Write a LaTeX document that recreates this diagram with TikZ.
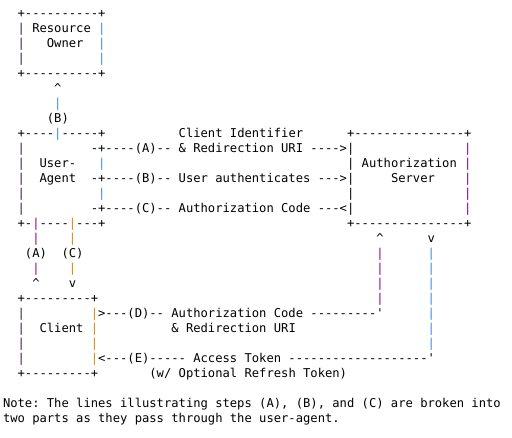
\documentclass[tikz,border=0pt]{standalone}
\usepackage{fontspec}
\setmonofont{DejaVu Sans Mono}
\definecolor{cbl}{HTML}{3A8EDB}
\definecolor{cor}{HTML}{DB8A08}
\definecolor{cpu}{HTML}{860486}
\definecolor{cdk}{HTML}{3A1A4E}
\newlength\cw
\setlength\cw{7.3209pt}
\newcommand\spc[1]{\hspace*{#1\cw}}
\newcommand\cB[1]{\textcolor{cbl}{#1}}
\newcommand\cO[1]{\textcolor{cor}{#1}}
\newcommand\cP[1]{\textcolor{cpu}{#1}}
\newcommand\cD[1]{\textcolor{cdk}{#1}}
\newcommand\up{\textasciicircum}
\tikzset{ln/.style={anchor=base west, inner sep=0pt, outer sep=0pt,
  font=\ttfamily\fontsize{12.16}{15}\selectfont\frenchspacing, text=black}}
\begin{document}
\begin{tikzpicture}[x=1pt,y=1pt]
\fill[white] (0,0) rectangle (512,-437);
\useasboundingbox (0,0) rectangle (512,-437);
\node[ln] (l0) at (3,-17) {\spc{2}+----------+};
\node[ln] (l1) at (3,-32) {\spc{2}\cD{|} Resource \cB{|}};
\node[ln] (l2) at (3,-47) {\spc{2}\cD{|}\spc{3}Owner\spc{2}\cB{|}};
\node[ln] (l3) at (3,-62) {\spc{2}\cD{|}\spc{10}\cB{|}};
\node[ln] (l4) at (3,-77) {\spc{2}+----------+};
\node[ln] (l5) at (3,-92) {\spc{7}\up};
\node[ln] (l6) at (3,-107) {\spc{7}\cB{|}};
\node[ln] (l7) at (3,-122) {\spc{6}(B)};
\node[ln] (l8) at (3,-137) {\spc{2}+----\cB{|}-----+\spc{10}Client Identifier\spc{6}+---------------+};
\node[ln] (l9) at (3,-152) {\spc{2}\cD{|}\spc{9}-+----(A)-- \& Redirection URI ---->|\spc{15}\cP{|}};
\node[ln] (l10) at (3,-167) {\spc{2}\cD{|}\spc{2}User-\spc{3}\cB{|}\spc{33}| Authorization \cP{|}};
\node[ln] (l11) at (3,-182) {\spc{2}\cD{|}\spc{2}Agent\spc{2}-+----(B)-- User authenticates --->|\spc{5}Server\spc{4}\cP{|}};
\node[ln] (l12) at (3,-197) {\spc{2}\cD{|}\spc{10}\cB{|}\spc{33}|\spc{15}\cP{|}};
\node[ln] (l13) at (3,-212) {\spc{2}\cD{|}\spc{9}-+----(C)-- Authorization Code ---<|\spc{15}\cP{|}};
\node[ln] (l14) at (3,-227) {\spc{2}+-\cP{|}----\cO{|}---+\spc{33}+---------------+};
\node[ln] (l15) at (3,-242) {\spc{4}\cP{|}\spc{4}\cO{|}\spc{41}\up\spc{6}v};
\node[ln] (l16) at (3,-257) {\spc{3}(A)\spc{2}(C)\spc{40}\cP{|}\spc{6}\cB{|}};
\node[ln] (l17) at (3,-272) {\spc{4}\cP{|}\spc{4}\cO{|}\spc{41}\cP{|}\spc{6}\cB{|}};
\node[ln] (l18) at (3,-287) {\spc{4}\up\spc{4}v\spc{41}\cP{|}\spc{6}\cB{|}};
\node[ln] (l19) at (3,-302) {\spc{2}+---------+\spc{38}\cP{|}\spc{6}\cB{|}};
\node[ln] (l20) at (3,-317) {\spc{2}\cD{|}\spc{9}\cO{|}>---(D)-- Authorization Code ---------'\spc{6}\cB{|}};
\node[ln] (l21) at (3,-332) {\spc{2}\cD{|}\spc{2}Client \cO{|}\spc{10}\& Redirection URI\spc{18}\cB{|}};
\node[ln] (l22) at (3,-347) {\spc{2}\cD{|}\spc{9}\cO{|}\spc{45}\cB{|}};
\node[ln] (l23) at (3,-362) {\spc{2}\cD{|}\spc{9}\cO{|}<---(E)----- Access Token -------------------'};
\node[ln] (l24) at (3,-377) {\spc{2}+---------+\spc{7}(w/ Optional Refresh Token)};
\node[ln] (l26) at (3,-407) {Note: The lines illustrating steps (A), (B), and (C) are broken into};
\node[ln] (l27) at (3,-422) {two parts as they pass through the user-agent.};
\end{tikzpicture}
\end{document}
